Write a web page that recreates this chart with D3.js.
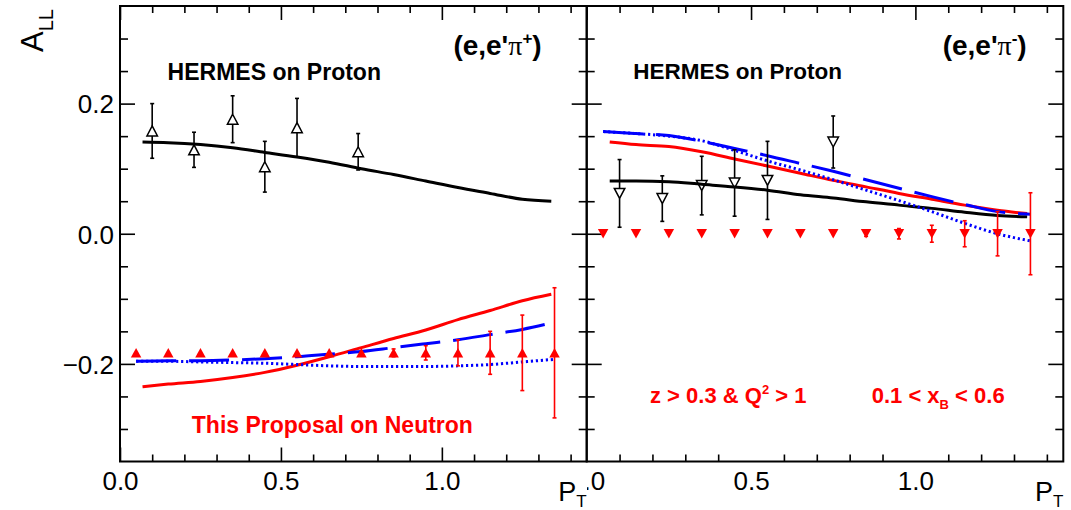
<!DOCTYPE html>
<html>
<head>
<meta charset="utf-8">
<script src="https://d3js.org/d3.v7.min.js"></script>
<style>
  body { margin: 0; background: #fff; }
  svg text { font-family: "Liberation Sans", Arial, Helvetica, sans-serif; }
</style>
</head>
<body>
<div id="chart"></div>
<script>

// ---- data ----
var xTickValues = [0, 0.5, 1.0]
var xTickLabels = ["0.0", "0.5", "1.0"]
var xMinorTicks = [0.1, 0.2, 0.3, 0.4, 0.6, 0.7, 0.8, 0.9, 1.1, 1.2, 1.3, 1.4]
var yTickValues = [-0.2, 0, 0.2]
var yTickLabels = ["\u22120.2", "0.0", "0.2"]
var yMinorTicks = [-0.3, -0.25, -0.15, -0.1, -0.05, 0.05, 0.1, 0.15, 0.25, 0.3]

// model curves
var ptModel = [0.07, 0.15, 0.25, 0.35, 0.45, 0.55, 0.65, 0.75, 0.85, 0.95, 1.05, 1.15, 1.25, 1.34]
var ptModelBlue = [0.05, 0.15, 0.25, 0.35, 0.45, 0.55, 0.65, 0.75, 0.85, 0.95, 1.05, 1.15, 1.25, 1.35]

var plusBlack   = [0.141, 0.140, 0.137, 0.132, 0.125, 0.118, 0.110, 0.100, 0.091, 0.081, 0.071, 0.062, 0.053, 0.050]
var plusRed     = [-0.235, -0.231, -0.227, -0.221, -0.213, -0.202, -0.189, -0.175, -0.161, -0.148, -0.132, -0.118, -0.103, -0.093]
var plusBlueDash = [-0.196, -0.195, -0.195, -0.194, -0.192, -0.189, -0.185, -0.181, -0.175, -0.169, -0.163, -0.155, -0.147, -0.136]
var plusBlueDot  = [-0.196, -0.196, -0.197, -0.198, -0.199, -0.201, -0.203, -0.204, -0.204, -0.204, -0.203, -0.201, -0.197, -0.193]

var minusBlack   = [0.081, 0.081, 0.080, 0.076, 0.072, 0.067, 0.060, 0.055, 0.049, 0.044, 0.039, 0.033, 0.028, 0.026]
var minusRed     = [0.141, 0.137, 0.134, 0.126, 0.115, 0.104, 0.093, 0.082, 0.072, 0.062, 0.053, 0.044, 0.036, 0.031]
var minusBlueDash = [0.157, 0.154, 0.151, 0.142, 0.131, 0.120, 0.108, 0.096, 0.083, 0.070, 0.057, 0.045, 0.034, 0.030]
var minusBlueDot  = [0.157, 0.154, 0.150, 0.143, 0.128, 0.112, 0.098, 0.083, 0.067, 0.051, 0.034, 0.016, 0.000, -0.011]

// HERMES proton data
var hermesPtPlus  = [0.10, 0.23, 0.35, 0.45, 0.55, 0.74]
var hermesAllPlus = [0.158, 0.129, 0.176, 0.103, 0.163, 0.126]
var hermesErrPlus = [0.042, 0.027, 0.036, 0.039, 0.045, 0.028]

var hermesPtMinus  = [0.10, 0.23, 0.35, 0.45, 0.55, 0.75]
var hermesAllMinus = [0.062, 0.054, 0.074, 0.078, 0.082, 0.141]
var hermesErrMinus = [0.052, 0.035, 0.045, 0.051, 0.060, 0.040]

// projected neutron points
var projPt       = [0.05, 0.15, 0.25, 0.35, 0.45, 0.55, 0.65, 0.75, 0.85, 0.95, 1.05, 1.15, 1.25, 1.35]
var projPlusVal  = [-0.183, -0.183, -0.183, -0.183, -0.183, -0.183, -0.183, -0.183, -0.183, -0.183, -0.183, -0.183, -0.183, -0.183]
var projPlusErr  = [0, 0, 0, 0, 0, 0, 0, 0, 0.006, 0.011, 0.020, 0.033, 0.058, 0.100]
var projMinusVal = [0, 0, 0, 0, 0, 0, 0, 0, 0, 0, 0, 0, 0, 0]
var projMinusErr = [0, 0, 0, 0, 0, 0, 0, 0, 0.004, 0.008, 0.013, 0.020, 0.034, 0.063]

// ---- layout ----
var W = 1071, H = 510
var yTop = 6, yBottom = 461.5
var RED = "#ff0000", BLUE = "#0000ff"

var svg = d3.select("#chart").append("svg")
  .attr("width", W).attr("height", H)
  .style("display", "block")

svg.append("rect").attr("width", W).attr("height", H).attr("fill", "#fff")

var y = d3.scaleLinear().domain([-0.35, 0.35]).range([yBottom, yTop])

function zip(a, b) {
  return a.map(function (d, i) { return [d, b[i]] })
}

function triPath(cx, cy, up, w, h) {
  var s = up ? 1 : -1
  return "M" + cx + "," + (cy - s * h / 2) +
         "L" + (cx + w / 2) + "," + (cy + s * h / 2) +
         "L" + (cx - w / 2) + "," + (cy + s * h / 2) + "Z"
}

function styleAxis(g) {
  g.select(".domain").remove()
  g.selectAll(".tick line").attr("stroke", "#000").attr("stroke-width", 1.6)
  g.attr("font-family", null).attr("font-size", null)
}

function drawPanel(cfg) {
  var x = d3.scaleLinear().domain([0, 1.45]).range([cfg.x0, cfg.x1])
  var g = svg.append("g")

  // ticks, all four sides
  var bottomLabels = g.append("g").attr("transform", "translate(0," + yBottom + ")")
  if (cfg.clip) bottomLabels.attr("clip-path", "url(#" + cfg.clip + ")")
  bottomLabels.call(d3.axisBottom(x).tickValues(xTickValues).tickSize(-14)
      .tickFormat(function (d, i) { return xTickLabels[i] }))
    .call(styleAxis)
  bottomLabels.selectAll("text")
    .attr("y", 28).attr("dy", null)
    .attr("fill", "#000").style("font-size", "26px")

  g.append("g").attr("transform", "translate(0," + yBottom + ")")
    .call(d3.axisBottom(x).tickValues(xMinorTicks).tickSize(-7).tickFormat(""))
    .call(styleAxis)
  g.append("g").attr("transform", "translate(0," + yTop + ")")
    .call(d3.axisTop(x).tickValues(xTickValues).tickSize(-14).tickFormat(""))
    .call(styleAxis)
  g.append("g").attr("transform", "translate(0," + yTop + ")")
    .call(d3.axisTop(x).tickValues(xMinorTicks).tickSize(-7).tickFormat(""))
    .call(styleAxis)

  var left = g.append("g").attr("transform", "translate(" + cfg.x0 + ",0)")
    .call(d3.axisLeft(y).tickValues(yTickValues).tickSize(-15).tickPadding(6)
      .tickFormat(function (d, i) { return cfg.yLabels ? yTickLabels[i] : "" }))
    .call(styleAxis)
  left.selectAll("text").attr("dy", "0.36em").attr("fill", "#000").style("font-size", "26px")
  g.append("g").attr("transform", "translate(" + cfg.x0 + ",0)")
    .call(d3.axisLeft(y).tickValues(yMinorTicks).tickSize(-8).tickFormat(""))
    .call(styleAxis)
  g.append("g").attr("transform", "translate(" + cfg.x1 + ",0)")
    .call(d3.axisRight(y).tickValues(yTickValues).tickSize(-15).tickFormat(""))
    .call(styleAxis)
  g.append("g").attr("transform", "translate(" + cfg.x1 + ",0)")
    .call(d3.axisRight(y).tickValues(yMinorTicks).tickSize(-8).tickFormat(""))
    .call(styleAxis)

  // frame
  g.append("rect")
    .attr("x", cfg.x0).attr("y", yTop)
    .attr("width", cfg.x1 - cfg.x0).attr("height", yBottom - yTop)
    .attr("fill", "none").attr("stroke", "#000").attr("stroke-width", 2)

  // curves
  var line = d3.line()
    .x(function (d) { return x(d[0]) })
    .y(function (d) { return y(d[1]) })
    .curve(d3.curveMonotoneX)

  var curves = [
    { pts: zip(ptModel, cfg.black), color: "#000", dash: null },
    { pts: zip(ptModel, cfg.red), color: RED, dash: null },
    { pts: zip(ptModelBlue, cfg.blueDot), color: BLUE, dash: "2.2 2.8" },
    { pts: zip(ptModelBlue, cfg.blueDash), color: BLUE, dash: "40 13" }
  ]
  g.selectAll(".curve").data(curves).enter().append("path")
    .attr("class", "curve")
    .attr("d", function (d) { return line(d.pts) })
    .attr("fill", "none")
    .attr("stroke", function (d) { return d.color })
    .attr("stroke-width", 3)
    .attr("stroke-dasharray", function (d) { return d.dash })

  // projected neutron points (red, filled)
  var proj = projPt.map(function (p, i) { return { x: p, v: cfg.projVal[i], e: cfg.projErr[i] } })
  var pg = g.selectAll(".proj").data(proj).enter().append("g").attr("class", "proj")
  pg.filter(function (d) { return d.e > 0 }).each(function (d) {
    var s = d3.select(this)
    s.append("line")
      .attr("x1", x(d.x)).attr("x2", x(d.x))
      .attr("y1", y(d.v + d.e)).attr("y2", y(d.v - d.e))
      .attr("stroke", RED).attr("stroke-width", 1.6)
    ;[d.v + d.e, d.v - d.e].forEach(function (v) {
      s.append("line")
        .attr("x1", x(d.x) - 2).attr("x2", x(d.x) + 2)
        .attr("y1", y(v)).attr("y2", y(v))
        .attr("stroke", RED).attr("stroke-width", 1.6)
    })
  })
  pg.append("path")
    .attr("d", function (d) { return triPath(x(d.x), y(d.v), cfg.up, 10.5, 9.5) })
    .attr("fill", RED)

  // HERMES points (black, open)
  var herm = cfg.hPt.map(function (p, i) { return { x: p, v: cfg.hVal[i], e: cfg.hErr[i] } })
  var hg = g.selectAll(".herm").data(herm).enter().append("g").attr("class", "herm")
  hg.each(function (d) {
    var s = d3.select(this)
    var cx = x(d.x), cy = y(d.v)
    s.append("line").attr("x1", cx).attr("x2", cx)
      .attr("y1", y(d.v + d.e)).attr("y2", cy - 5)
      .attr("stroke", "#000").attr("stroke-width", 1.6)
    s.append("line").attr("x1", cx).attr("x2", cx)
      .attr("y1", cy + 5).attr("y2", y(d.v - d.e))
      .attr("stroke", "#000").attr("stroke-width", 1.6)
    ;[d.v + d.e, d.v - d.e].forEach(function (v) {
      s.append("line")
        .attr("x1", cx - 2).attr("x2", cx + 2)
        .attr("y1", y(v)).attr("y2", y(v))
        .attr("stroke", "#000").attr("stroke-width", 1.6)
    })
    s.append("path")
      .attr("d", triPath(cx, cy, cfg.up, 10.5, 10))
      .attr("fill", "none").attr("stroke", "#000").attr("stroke-width", 1.5)
  })

  // P_T axis title
  var pt = svg.append("text")
    .attr("x", cfg.x1).attr("y", 500.5)
    .attr("text-anchor", "end").style("font-size", "27px")
  pt.append("tspan").text("P")
  pt.append("tspan").attr("dy", 6).style("font-size", "17px").text("T")

  return x
}

svg.append("clipPath").attr("id", "rightClip")
  .append("rect").attr("x", 587).attr("y", 0).attr("width", W - 587).attr("height", H)

drawPanel({
  x0: 120, x1: 586.7, yLabels: true, up: true,
  black: plusBlack, red: plusRed, blueDash: plusBlueDash, blueDot: plusBlueDot,
  projVal: projPlusVal, projErr: projPlusErr,
  hPt: hermesPtPlus, hVal: hermesAllPlus, hErr: hermesErrPlus
})

drawPanel({
  x0: 586.7, x1: 1063.3, yLabels: false, up: false, clip: "rightClip",
  black: minusBlack, red: minusRed, blueDash: minusBlueDash, blueDot: minusBlueDot,
  projVal: projMinusVal, projErr: projMinusErr,
  hPt: hermesPtMinus, hVal: hermesAllMinus, hErr: hermesErrMinus
})

// y axis title
var yt = svg.append("text")
  .attr("transform", "translate(43,52) rotate(-90)")
  .attr("text-anchor", "start").style("font-size", "31px")
yt.append("tspan").text("A")
yt.append("tspan").attr("dy", 10).style("font-size", "20px").text("LL")

// reaction labels
function reaction(xEnd, sign) {
  var t = svg.append("text")
    .attr("x", xEnd).attr("y", 55)
    .attr("text-anchor", "end")
    .style("font-size", "28px").style("font-weight", "bold")
  t.append("tspan").text("(e,e'")
  t.append("tspan").style("font-family", "'Liberation Serif', 'Times New Roman', serif")
    .style("font-weight", "normal").text("\u03c0")
  t.append("tspan").attr("dy", -11).style("font-size", "17px").text(sign)
  t.append("tspan").attr("dy", 11).text(")")
}
reaction(541.7, "+")
reaction(1026.7, "-")

svg.append("text").attr("x", 167.6).attr("y", 80)
  .style("font-size", "23px").style("font-weight", "bold").text("HERMES on Proton")
svg.append("text").attr("x", 633.3).attr("y", 79)
  .style("font-size", "22.5px").style("font-weight", "bold").text("HERMES on Proton")

svg.append("text").attr("x", 191.8).attr("y", 432.5)
  .attr("fill", RED)
  .style("font-size", "23px").style("font-weight", "bold").text("This Proposal on Neutron")

var c1 = svg.append("text").attr("x", 650).attr("y", 402.5)
  .attr("fill", RED).style("font-size", "22px").style("font-weight", "bold")
c1.append("tspan").text("z > 0.3 & Q")
c1.append("tspan").attr("dy", -9).style("font-size", "13px").text("2")
c1.append("tspan").attr("dy", 9).text(" > 1")

var c2 = svg.append("text").attr("x", 871.7).attr("y", 402.5)
  .attr("fill", RED).style("font-size", "22px").style("font-weight", "bold")
c2.append("tspan").text("0.1 < x")
c2.append("tspan").attr("dy", 6).style("font-size", "13px").text("B")
c2.append("tspan").attr("dy", -6).text(" < 0.6")

</script>
</body>
</html>
